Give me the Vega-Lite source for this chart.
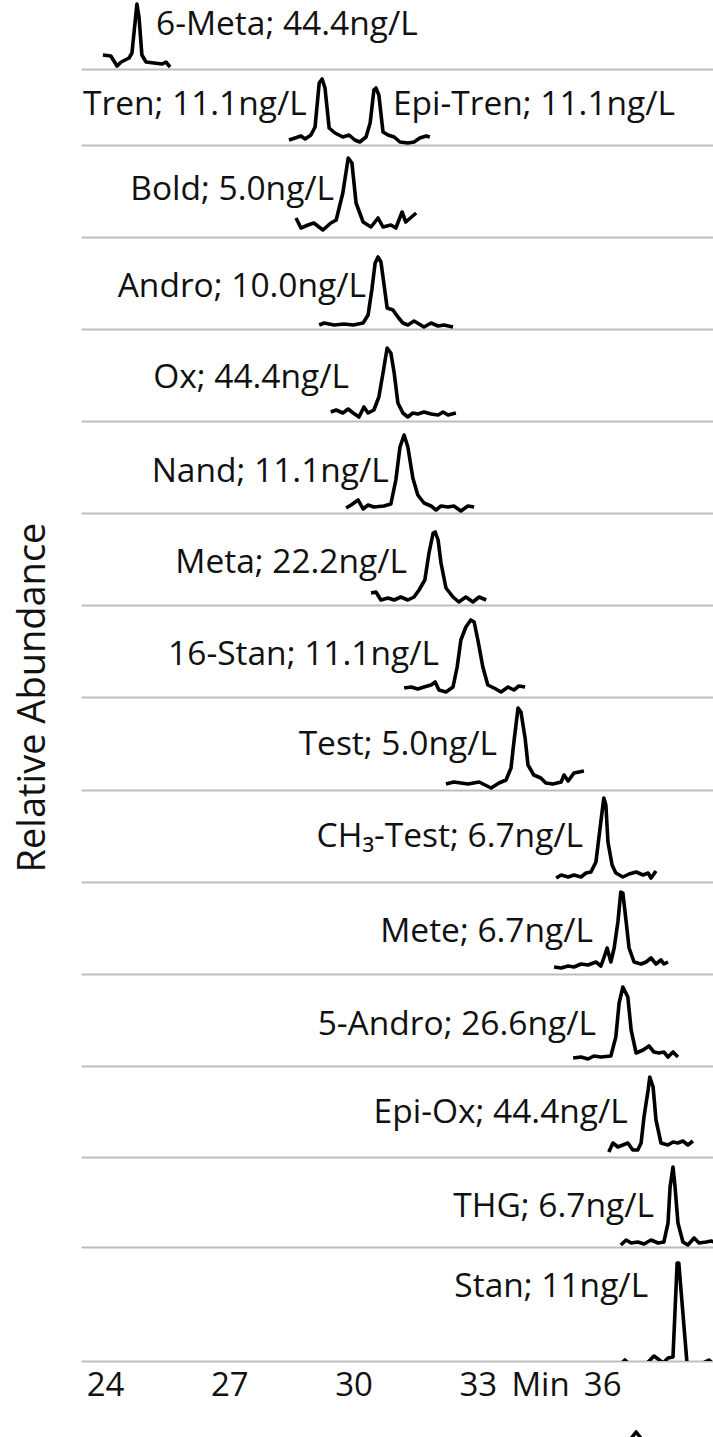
{
  "$schema": "https://vega.github.io/schema/vega-lite/v6.json",
  "padding": {"left": 14, "top": 0, "right": 0, "bottom": 0},
  "autosize": {"type": "pad"},
  "background": "white",
  "title": {"text": "Relative Abundance", "orient": "left", "anchor": "middle", "font": "Open Sans", "fontSize": 38, "fontWeight": "normal", "color": "#111", "offset": 28, "dx": 23},
  "datasets": {
    "traces": [
      {"trace": "6-Meta", "time": 23.95, "abundance": 14}, {"trace": "6-Meta", "time": 24.14, "abundance": 13}, {"trace": "6-Meta", "time": 24.29, "abundance": 3}, {"trace": "6-Meta", "time": 24.39, "abundance": 7}, {"trace": "6-Meta", "time": 24.58, "abundance": 11}, {"trace": "6-Meta", "time": 24.65, "abundance": 16}, {"trace": "6-Meta", "time": 24.77, "abundance": 65}, {"trace": "6-Meta", "time": 24.82, "abundance": 52}, {"trace": "6-Meta", "time": 24.89, "abundance": 14}, {"trace": "6-Meta", "time": 24.99, "abundance": 7}, {"trace": "6-Meta", "time": 25.18, "abundance": 6}, {"trace": "6-Meta", "time": 25.38, "abundance": 5}, {"trace": "6-Meta", "time": 25.47, "abundance": 7}, {"trace": "6-Meta", "time": 25.57, "abundance": 2},
      {"trace": "Tren", "time": 28.44, "abundance": 5}, {"trace": "Tren", "time": 28.59, "abundance": 7}, {"trace": "Tren", "time": 28.73, "abundance": 9}, {"trace": "Tren", "time": 28.83, "abundance": 6}, {"trace": "Tren", "time": 28.97, "abundance": 10}, {"trace": "Tren", "time": 29.07, "abundance": 18}, {"trace": "Tren", "time": 29.17, "abundance": 62}, {"trace": "Tren", "time": 29.24, "abundance": 66}, {"trace": "Tren", "time": 29.31, "abundance": 57}, {"trace": "Tren", "time": 29.41, "abundance": 17}, {"trace": "Tren", "time": 29.55, "abundance": 12}, {"trace": "Tren", "time": 29.74, "abundance": 8}, {"trace": "Tren", "time": 29.89, "abundance": 10}, {"trace": "Tren", "time": 30.03, "abundance": 5}, {"trace": "Tren", "time": 30.15, "abundance": 3}, {"trace": "Tren", "time": 30.30, "abundance": 8}, {"trace": "Tren", "time": 30.40, "abundance": 22}, {"trace": "Tren", "time": 30.49, "abundance": 55}, {"trace": "Tren", "time": 30.54, "abundance": 57}, {"trace": "Tren", "time": 30.61, "abundance": 50}, {"trace": "Tren", "time": 30.71, "abundance": 13}, {"trace": "Tren", "time": 30.83, "abundance": 10}, {"trace": "Tren", "time": 30.98, "abundance": 8}, {"trace": "Tren", "time": 31.12, "abundance": 3}, {"trace": "Tren", "time": 31.31, "abundance": 2}, {"trace": "Tren", "time": 31.46, "abundance": 3}, {"trace": "Tren", "time": 31.60, "abundance": 7}, {"trace": "Tren", "time": 31.75, "abundance": 9}, {"trace": "Tren", "time": 31.84, "abundance": 8},
      {"trace": "Bold", "time": 28.61, "abundance": 19}, {"trace": "Bold", "time": 28.73, "abundance": 9}, {"trace": "Bold", "time": 28.90, "abundance": 12}, {"trace": "Bold", "time": 29.04, "abundance": 14}, {"trace": "Bold", "time": 29.26, "abundance": 7}, {"trace": "Bold", "time": 29.45, "abundance": 14}, {"trace": "Bold", "time": 29.58, "abundance": 17}, {"trace": "Bold", "time": 29.74, "abundance": 44}, {"trace": "Bold", "time": 29.87, "abundance": 79}, {"trace": "Bold", "time": 29.96, "abundance": 74}, {"trace": "Bold", "time": 30.06, "abundance": 34}, {"trace": "Bold", "time": 30.23, "abundance": 15}, {"trace": "Bold", "time": 30.42, "abundance": 10}, {"trace": "Bold", "time": 30.59, "abundance": 19}, {"trace": "Bold", "time": 30.71, "abundance": 10}, {"trace": "Bold", "time": 30.90, "abundance": 12}, {"trace": "Bold", "time": 31.02, "abundance": 9}, {"trace": "Bold", "time": 31.17, "abundance": 25}, {"trace": "Bold", "time": 31.26, "abundance": 15}, {"trace": "Bold", "time": 31.51, "abundance": 24},
      {"trace": "Andro", "time": 29.17, "abundance": 4}, {"trace": "Andro", "time": 29.29, "abundance": 6}, {"trace": "Andro", "time": 29.53, "abundance": 4}, {"trace": "Andro", "time": 29.77, "abundance": 5}, {"trace": "Andro", "time": 29.99, "abundance": 4}, {"trace": "Andro", "time": 30.23, "abundance": 6}, {"trace": "Andro", "time": 30.35, "abundance": 14}, {"trace": "Andro", "time": 30.44, "abundance": 39}, {"trace": "Andro", "time": 30.52, "abundance": 66}, {"trace": "Andro", "time": 30.59, "abundance": 72}, {"trace": "Andro", "time": 30.66, "abundance": 67}, {"trace": "Andro", "time": 30.73, "abundance": 46}, {"trace": "Andro", "time": 30.81, "abundance": 21}, {"trace": "Andro", "time": 30.95, "abundance": 19}, {"trace": "Andro", "time": 31.07, "abundance": 12}, {"trace": "Andro", "time": 31.19, "abundance": 6}, {"trace": "Andro", "time": 31.31, "abundance": 4}, {"trace": "Andro", "time": 31.46, "abundance": 8}, {"trace": "Andro", "time": 31.58, "abundance": 5}, {"trace": "Andro", "time": 31.70, "abundance": 2}, {"trace": "Andro", "time": 31.87, "abundance": 6}, {"trace": "Andro", "time": 32.04, "abundance": 3}, {"trace": "Andro", "time": 32.18, "abundance": 4}, {"trace": "Andro", "time": 32.40, "abundance": 2},
      {"trace": "Ox", "time": 29.45, "abundance": 9}, {"trace": "Ox", "time": 29.58, "abundance": 11}, {"trace": "Ox", "time": 29.74, "abundance": 8}, {"trace": "Ox", "time": 29.87, "abundance": 12}, {"trace": "Ox", "time": 29.99, "abundance": 8}, {"trace": "Ox", "time": 30.13, "abundance": 4}, {"trace": "Ox", "time": 30.25, "abundance": 14}, {"trace": "Ox", "time": 30.35, "abundance": 8}, {"trace": "Ox", "time": 30.49, "abundance": 11}, {"trace": "Ox", "time": 30.61, "abundance": 24}, {"trace": "Ox", "time": 30.71, "abundance": 48}, {"trace": "Ox", "time": 30.81, "abundance": 73}, {"trace": "Ox", "time": 30.90, "abundance": 68}, {"trace": "Ox", "time": 30.98, "abundance": 48}, {"trace": "Ox", "time": 31.07, "abundance": 18}, {"trace": "Ox", "time": 31.19, "abundance": 8}, {"trace": "Ox", "time": 31.31, "abundance": 4}, {"trace": "Ox", "time": 31.43, "abundance": 8}, {"trace": "Ox", "time": 31.55, "abundance": 7}, {"trace": "Ox", "time": 31.70, "abundance": 9}, {"trace": "Ox", "time": 31.87, "abundance": 7}, {"trace": "Ox", "time": 32.04, "abundance": 6}, {"trace": "Ox", "time": 32.16, "abundance": 9}, {"trace": "Ox", "time": 32.28, "abundance": 6}, {"trace": "Ox", "time": 32.47, "abundance": 8},
      {"trace": "Nand", "time": 29.82, "abundance": 5}, {"trace": "Nand", "time": 29.94, "abundance": 8}, {"trace": "Nand", "time": 30.11, "abundance": 13}, {"trace": "Nand", "time": 30.23, "abundance": 4}, {"trace": "Nand", "time": 30.35, "abundance": 8}, {"trace": "Nand", "time": 30.49, "abundance": 6}, {"trace": "Nand", "time": 30.73, "abundance": 7}, {"trace": "Nand", "time": 30.90, "abundance": 9}, {"trace": "Nand", "time": 31.02, "abundance": 33}, {"trace": "Nand", "time": 31.12, "abundance": 66}, {"trace": "Nand", "time": 31.22, "abundance": 78}, {"trace": "Nand", "time": 31.31, "abundance": 66}, {"trace": "Nand", "time": 31.43, "abundance": 35}, {"trace": "Nand", "time": 31.55, "abundance": 18}, {"trace": "Nand", "time": 31.70, "abundance": 10}, {"trace": "Nand", "time": 31.87, "abundance": 7}, {"trace": "Nand", "time": 31.99, "abundance": 3}, {"trace": "Nand", "time": 32.11, "abundance": 7}, {"trace": "Nand", "time": 32.28, "abundance": 6}, {"trace": "Nand", "time": 32.42, "abundance": 7}, {"trace": "Nand", "time": 32.59, "abundance": 2}, {"trace": "Nand", "time": 32.76, "abundance": 7}, {"trace": "Nand", "time": 32.91, "abundance": 6},
      {"trace": "Meta", "time": 30.42, "abundance": 12}, {"trace": "Meta", "time": 30.54, "abundance": 13}, {"trace": "Meta", "time": 30.66, "abundance": 5}, {"trace": "Meta", "time": 30.83, "abundance": 7}, {"trace": "Meta", "time": 30.98, "abundance": 5}, {"trace": "Meta", "time": 31.14, "abundance": 8}, {"trace": "Meta", "time": 31.31, "abundance": 5}, {"trace": "Meta", "time": 31.46, "abundance": 8}, {"trace": "Meta", "time": 31.58, "abundance": 15}, {"trace": "Meta", "time": 31.72, "abundance": 25}, {"trace": "Meta", "time": 31.82, "abundance": 52}, {"trace": "Meta", "time": 31.92, "abundance": 72}, {"trace": "Meta", "time": 31.97, "abundance": 73}, {"trace": "Meta", "time": 32.04, "abundance": 65}, {"trace": "Meta", "time": 32.11, "abundance": 42}, {"trace": "Meta", "time": 32.23, "abundance": 17}, {"trace": "Meta", "time": 32.40, "abundance": 8}, {"trace": "Meta", "time": 32.54, "abundance": 3}, {"trace": "Meta", "time": 32.71, "abundance": 8}, {"trace": "Meta", "time": 32.88, "abundance": 3}, {"trace": "Meta", "time": 33.03, "abundance": 8}, {"trace": "Meta", "time": 33.20, "abundance": 5},
      {"trace": "16-Stan", "time": 31.22, "abundance": 9}, {"trace": "16-Stan", "time": 31.39, "abundance": 10}, {"trace": "16-Stan", "time": 31.55, "abundance": 8}, {"trace": "16-Stan", "time": 31.70, "abundance": 10}, {"trace": "16-Stan", "time": 31.87, "abundance": 12}, {"trace": "16-Stan", "time": 31.97, "abundance": 15}, {"trace": "16-Stan", "time": 32.06, "abundance": 7}, {"trace": "16-Stan", "time": 32.23, "abundance": 5}, {"trace": "16-Stan", "time": 32.40, "abundance": 10}, {"trace": "16-Stan", "time": 32.50, "abundance": 30}, {"trace": "16-Stan", "time": 32.59, "abundance": 57}, {"trace": "16-Stan", "time": 32.71, "abundance": 70}, {"trace": "16-Stan", "time": 32.83, "abundance": 77}, {"trace": "16-Stan", "time": 32.91, "abundance": 75}, {"trace": "16-Stan", "time": 33.00, "abundance": 57}, {"trace": "16-Stan", "time": 33.12, "abundance": 30}, {"trace": "16-Stan", "time": 33.24, "abundance": 12}, {"trace": "16-Stan", "time": 33.39, "abundance": 9}, {"trace": "16-Stan", "time": 33.56, "abundance": 5}, {"trace": "16-Stan", "time": 33.73, "abundance": 10}, {"trace": "16-Stan", "time": 33.87, "abundance": 7}, {"trace": "16-Stan", "time": 33.99, "abundance": 11}, {"trace": "16-Stan", "time": 34.14, "abundance": 10},
      {"trace": "Test", "time": 32.23, "abundance": 6}, {"trace": "Test", "time": 32.42, "abundance": 8}, {"trace": "Test", "time": 32.76, "abundance": 6}, {"trace": "Test", "time": 33.03, "abundance": 8}, {"trace": "Test", "time": 33.32, "abundance": 2}, {"trace": "Test", "time": 33.51, "abundance": 7}, {"trace": "Test", "time": 33.68, "abundance": 10}, {"trace": "Test", "time": 33.80, "abundance": 22}, {"trace": "Test", "time": 33.87, "abundance": 48}, {"trace": "Test", "time": 33.97, "abundance": 82}, {"trace": "Test", "time": 34.04, "abundance": 78}, {"trace": "Test", "time": 34.14, "abundance": 52}, {"trace": "Test", "time": 34.21, "abundance": 25}, {"trace": "Test", "time": 34.35, "abundance": 15}, {"trace": "Test", "time": 34.52, "abundance": 12}, {"trace": "Test", "time": 34.64, "abundance": 7}, {"trace": "Test", "time": 34.81, "abundance": 6}, {"trace": "Test", "time": 35.01, "abundance": 8}, {"trace": "Test", "time": 35.08, "abundance": 15}, {"trace": "Test", "time": 35.18, "abundance": 9}, {"trace": "Test", "time": 35.32, "abundance": 17}, {"trace": "Test", "time": 35.44, "abundance": 18}, {"trace": "Test", "time": 35.56, "abundance": 19},
      {"trace": "CH3-Test", "time": 34.89, "abundance": 4}, {"trace": "CH3-Test", "time": 35.01, "abundance": 7}, {"trace": "CH3-Test", "time": 35.18, "abundance": 5}, {"trace": "CH3-Test", "time": 35.32, "abundance": 7}, {"trace": "CH3-Test", "time": 35.49, "abundance": 5}, {"trace": "CH3-Test", "time": 35.61, "abundance": 9}, {"trace": "CH3-Test", "time": 35.73, "abundance": 10}, {"trace": "CH3-Test", "time": 35.85, "abundance": 20}, {"trace": "CH3-Test", "time": 35.95, "abundance": 54}, {"trace": "CH3-Test", "time": 36.04, "abundance": 84}, {"trace": "CH3-Test", "time": 36.09, "abundance": 77}, {"trace": "CH3-Test", "time": 36.14, "abundance": 40}, {"trace": "CH3-Test", "time": 36.24, "abundance": 17}, {"trace": "CH3-Test", "time": 36.33, "abundance": 9}, {"trace": "CH3-Test", "time": 36.50, "abundance": 5}, {"trace": "CH3-Test", "time": 36.65, "abundance": 8}, {"trace": "CH3-Test", "time": 36.82, "abundance": 10}, {"trace": "CH3-Test", "time": 36.99, "abundance": 7}, {"trace": "CH3-Test", "time": 37.11, "abundance": 9}, {"trace": "CH3-Test", "time": 37.18, "abundance": 4}, {"trace": "CH3-Test", "time": 37.30, "abundance": 11},
      {"trace": "Mete", "time": 34.84, "abundance": 7}, {"trace": "Mete", "time": 35.01, "abundance": 6}, {"trace": "Mete", "time": 35.18, "abundance": 8}, {"trace": "Mete", "time": 35.32, "abundance": 7}, {"trace": "Mete", "time": 35.49, "abundance": 10}, {"trace": "Mete", "time": 35.66, "abundance": 9}, {"trace": "Mete", "time": 35.85, "abundance": 12}, {"trace": "Mete", "time": 35.97, "abundance": 8}, {"trace": "Mete", "time": 36.04, "abundance": 16}, {"trace": "Mete", "time": 36.12, "abundance": 26}, {"trace": "Mete", "time": 36.21, "abundance": 12}, {"trace": "Mete", "time": 36.29, "abundance": 26}, {"trace": "Mete", "time": 36.38, "abundance": 52}, {"trace": "Mete", "time": 36.45, "abundance": 82}, {"trace": "Mete", "time": 36.50, "abundance": 81}, {"trace": "Mete", "time": 36.58, "abundance": 52}, {"trace": "Mete", "time": 36.65, "abundance": 26}, {"trace": "Mete", "time": 36.77, "abundance": 12}, {"trace": "Mete", "time": 36.94, "abundance": 10}, {"trace": "Mete", "time": 37.06, "abundance": 12}, {"trace": "Mete", "time": 37.18, "abundance": 16}, {"trace": "Mete", "time": 37.30, "abundance": 10}, {"trace": "Mete", "time": 37.42, "abundance": 14}, {"trace": "Mete", "time": 37.49, "abundance": 10}, {"trace": "Mete", "time": 37.59, "abundance": 12},
      {"trace": "5-Andro", "time": 35.30, "abundance": 8}, {"trace": "5-Andro", "time": 35.49, "abundance": 9}, {"trace": "5-Andro", "time": 35.66, "abundance": 7}, {"trace": "5-Andro", "time": 35.80, "abundance": 10}, {"trace": "5-Andro", "time": 35.97, "abundance": 9}, {"trace": "5-Andro", "time": 36.21, "abundance": 10}, {"trace": "5-Andro", "time": 36.33, "abundance": 29}, {"trace": "5-Andro", "time": 36.41, "abundance": 63}, {"trace": "5-Andro", "time": 36.50, "abundance": 79}, {"trace": "5-Andro", "time": 36.62, "abundance": 69}, {"trace": "5-Andro", "time": 36.70, "abundance": 36}, {"trace": "5-Andro", "time": 36.82, "abundance": 13}, {"trace": "5-Andro", "time": 36.99, "abundance": 16}, {"trace": "5-Andro", "time": 37.13, "abundance": 20}, {"trace": "5-Andro", "time": 37.25, "abundance": 14}, {"trace": "5-Andro", "time": 37.37, "abundance": 13}, {"trace": "5-Andro", "time": 37.49, "abundance": 14}, {"trace": "5-Andro", "time": 37.59, "abundance": 9}, {"trace": "5-Andro", "time": 37.71, "abundance": 14}, {"trace": "5-Andro", "time": 37.83, "abundance": 9},
      {"trace": "Epi-Ox", "time": 36.16, "abundance": 5}, {"trace": "Epi-Ox", "time": 36.26, "abundance": 14}, {"trace": "Epi-Ox", "time": 36.38, "abundance": 10}, {"trace": "Epi-Ox", "time": 36.50, "abundance": 12}, {"trace": "Epi-Ox", "time": 36.62, "abundance": 14}, {"trace": "Epi-Ox", "time": 36.74, "abundance": 7}, {"trace": "Epi-Ox", "time": 36.86, "abundance": 7}, {"trace": "Epi-Ox", "time": 36.94, "abundance": 14}, {"trace": "Epi-Ox", "time": 37.01, "abundance": 40}, {"trace": "Epi-Ox", "time": 37.11, "abundance": 67}, {"trace": "Epi-Ox", "time": 37.15, "abundance": 80}, {"trace": "Epi-Ox", "time": 37.23, "abundance": 70}, {"trace": "Epi-Ox", "time": 37.30, "abundance": 37}, {"trace": "Epi-Ox", "time": 37.42, "abundance": 14}, {"trace": "Epi-Ox", "time": 37.59, "abundance": 12}, {"trace": "Epi-Ox", "time": 37.71, "abundance": 15}, {"trace": "Epi-Ox", "time": 37.83, "abundance": 14}, {"trace": "Epi-Ox", "time": 37.95, "abundance": 16}, {"trace": "Epi-Ox", "time": 38.07, "abundance": 12}, {"trace": "Epi-Ox", "time": 38.19, "abundance": 16},
      {"trace": "THG", "time": 36.45, "abundance": 2}, {"trace": "THG", "time": 36.58, "abundance": 7}, {"trace": "THG", "time": 36.70, "abundance": 4}, {"trace": "THG", "time": 36.86, "abundance": 5}, {"trace": "THG", "time": 37.01, "abundance": 3}, {"trace": "THG", "time": 37.18, "abundance": 7}, {"trace": "THG", "time": 37.35, "abundance": 4}, {"trace": "THG", "time": 37.49, "abundance": 5}, {"trace": "THG", "time": 37.59, "abundance": 24}, {"trace": "THG", "time": 37.64, "abundance": 60}, {"trace": "THG", "time": 37.71, "abundance": 80}, {"trace": "THG", "time": 37.76, "abundance": 60}, {"trace": "THG", "time": 37.83, "abundance": 24}, {"trace": "THG", "time": 37.95, "abundance": 5}, {"trace": "THG", "time": 38.07, "abundance": 2}, {"trace": "THG", "time": 38.22, "abundance": 9}, {"trace": "THG", "time": 38.34, "abundance": 4}, {"trace": "THG", "time": 38.51, "abundance": 5}, {"trace": "THG", "time": 38.63, "abundance": 6}, {"trace": "THG", "time": 38.70, "abundance": 5},
      {"trace": "Stan", "time": 36.45, "abundance": -3}, {"trace": "Stan", "time": 36.55, "abundance": 1}, {"trace": "Stan", "time": 36.65, "abundance": -3}, {"trace": "Stan", "time": 37.06, "abundance": -3}, {"trace": "Stan", "time": 37.18, "abundance": 2}, {"trace": "Stan", "time": 37.25, "abundance": 5}, {"trace": "Stan", "time": 37.35, "abundance": 2}, {"trace": "Stan", "time": 37.47, "abundance": -2}, {"trace": "Stan", "time": 37.59, "abundance": 3}, {"trace": "Stan", "time": 37.71, "abundance": 4}, {"trace": "Stan", "time": 37.81, "abundance": 98}, {"trace": "Stan", "time": 37.85, "abundance": 98}, {"trace": "Stan", "time": 38.05, "abundance": -3}, {"trace": "Stan", "time": 38.39, "abundance": -3}, {"trace": "Stan", "time": 38.58, "abundance": 1}, {"trace": "Stan", "time": 38.68, "abundance": -3},
      {"trace": "next", "time": 36.65, "abundance": 0}, {"trace": "next", "time": 36.82, "abundance": 9}, {"trace": "next", "time": 36.99, "abundance": 0}
    ],
    "labels": [
      {"trace": "6-Meta", "label": "6-Meta; 44.4ng/L", "time": 25.23, "abundance": 34},
      {"trace": "Tren", "label": "Tren; 11.1ng/L", "time": 28.87, "abundance": 30},
      {"trace": "Tren", "label": "Epi-Tren; 11.1ng/L", "time": 30.95, "abundance": 30},
      {"trace": "Bold", "label": "Bold; 5.0ng/L", "time": 29.53, "abundance": 37},
      {"trace": "Andro", "label": "Andro; 10.0ng/L", "time": 30.30, "abundance": 32},
      {"trace": "Ox", "label": "Ox; 44.4ng/L", "time": 29.89, "abundance": 33},
      {"trace": "Nand", "label": "Nand; 11.1ng/L", "time": 30.85, "abundance": 31},
      {"trace": "Meta", "label": "Meta; 22.2ng/L", "time": 31.29, "abundance": 32},
      {"trace": "16-Stan", "label": "16-Stan; 11.1ng/L", "time": 32.06, "abundance": 32},
      {"trace": "Test", "label": "Test; 5.0ng/L", "time": 33.46, "abundance": 35},
      {"trace": "CH3-Test", "label": "CH₃-Test; 6.7ng/L", "time": 35.54, "abundance": 35},
      {"trace": "Mete", "label": "Mete; 6.7ng/L", "time": 35.78, "abundance": 32},
      {"trace": "5-Andro", "label": "5-Andro; 26.6ng/L", "time": 35.85, "abundance": 31},
      {"trace": "Epi-Ox", "label": "Epi-Ox; 44.4ng/L", "time": 36.62, "abundance": 34},
      {"trace": "THG", "label": "THG; 6.7ng/L", "time": 37.25, "abundance": 30},
      {"trace": "Stan", "label": "Stan; 11ng/L", "time": 37.11, "abundance": 64}
    ]
  },
  "spacing": 0,
  "bounds": "flush",
  "resolve": {"scale": {"x": "independent", "y": "independent"}},
  "vconcat": [
    {"width": 633, "height": 69,
     "encoding": {"x": {"field": "time", "type": "quantitative", "title": null, "scale": {"domain": [23.42, 38.7], "nice": false, "zero": false}}, "y": {"field": "abundance", "type": "quantitative", "axis": null, "scale": {"domain": [0, 69], "nice": false, "zero": false}}},
     "layer": [
       {"data": {"name": "traces"}, "transform": [{"filter": "datum.trace === '6-Meta'"}], "mark": {"type": "line", "color": "#000", "strokeWidth": 3.6, "strokeJoin": "round", "clip": true}},
       {"data": {"name": "labels"}, "transform": [{"filter": "datum.trace === '6-Meta'"}], "mark": {"type": "text", "align": "left", "baseline": "alphabetic"}, "encoding": {"text": {"field": "label"}}}
     ]},
    {"width": 633, "height": 76,
     "encoding": {"x": {"field": "time", "type": "quantitative", "title": null, "scale": {"domain": [23.42, 38.7], "nice": false, "zero": false}}, "y": {"field": "abundance", "type": "quantitative", "axis": null, "scale": {"domain": [0, 76], "nice": false, "zero": false}}},
     "layer": [
       {"data": {"name": "traces"}, "transform": [{"filter": "datum.trace === 'Tren'"}], "mark": {"type": "line", "color": "#000", "strokeWidth": 3.6, "strokeJoin": "round", "clip": true}},
       {"data": {"name": "labels"}, "transform": [{"filter": "datum.label === 'Tren; 11.1ng/L'"}], "mark": {"type": "text", "align": "right", "baseline": "alphabetic"}, "encoding": {"text": {"field": "label"}}},
       {"data": {"name": "labels"}, "transform": [{"filter": "datum.label === 'Epi-Tren; 11.1ng/L'"}], "mark": {"type": "text", "align": "left", "baseline": "alphabetic"}, "encoding": {"text": {"field": "label"}}}
     ]},
    {"width": 633, "height": 92,
     "encoding": {"x": {"field": "time", "type": "quantitative", "title": null, "scale": {"domain": [23.42, 38.7], "nice": false, "zero": false}}, "y": {"field": "abundance", "type": "quantitative", "axis": null, "scale": {"domain": [0, 92], "nice": false, "zero": false}}},
     "layer": [
       {"data": {"name": "traces"}, "transform": [{"filter": "datum.trace === 'Bold'"}], "mark": {"type": "line", "color": "#000", "strokeWidth": 3.6, "strokeJoin": "round", "clip": true}},
       {"data": {"name": "labels"}, "transform": [{"filter": "datum.trace === 'Bold'"}], "mark": {"type": "text", "align": "right", "baseline": "alphabetic"}, "encoding": {"text": {"field": "label"}}}
     ]},
    {"width": 633, "height": 92,
     "encoding": {"x": {"field": "time", "type": "quantitative", "title": null, "scale": {"domain": [23.42, 38.7], "nice": false, "zero": false}}, "y": {"field": "abundance", "type": "quantitative", "axis": null, "scale": {"domain": [0, 92], "nice": false, "zero": false}}},
     "layer": [
       {"data": {"name": "traces"}, "transform": [{"filter": "datum.trace === 'Andro'"}], "mark": {"type": "line", "color": "#000", "strokeWidth": 3.6, "strokeJoin": "round", "clip": true}},
       {"data": {"name": "labels"}, "transform": [{"filter": "datum.trace === 'Andro'"}], "mark": {"type": "text", "align": "right", "baseline": "alphabetic"}, "encoding": {"text": {"field": "label"}}}
     ]},
    {"width": 633, "height": 92,
     "encoding": {"x": {"field": "time", "type": "quantitative", "title": null, "scale": {"domain": [23.42, 38.7], "nice": false, "zero": false}}, "y": {"field": "abundance", "type": "quantitative", "axis": null, "scale": {"domain": [0, 92], "nice": false, "zero": false}}},
     "layer": [
       {"data": {"name": "traces"}, "transform": [{"filter": "datum.trace === 'Ox'"}], "mark": {"type": "line", "color": "#000", "strokeWidth": 3.6, "strokeJoin": "round", "clip": true}},
       {"data": {"name": "labels"}, "transform": [{"filter": "datum.trace === 'Ox'"}], "mark": {"type": "text", "align": "right", "baseline": "alphabetic"}, "encoding": {"text": {"field": "label"}}}
     ]},
    {"width": 633, "height": 92,
     "encoding": {"x": {"field": "time", "type": "quantitative", "title": null, "scale": {"domain": [23.42, 38.7], "nice": false, "zero": false}}, "y": {"field": "abundance", "type": "quantitative", "axis": null, "scale": {"domain": [0, 92], "nice": false, "zero": false}}},
     "layer": [
       {"data": {"name": "traces"}, "transform": [{"filter": "datum.trace === 'Nand'"}], "mark": {"type": "line", "color": "#000", "strokeWidth": 3.6, "strokeJoin": "round", "clip": true}},
       {"data": {"name": "labels"}, "transform": [{"filter": "datum.trace === 'Nand'"}], "mark": {"type": "text", "align": "right", "baseline": "alphabetic"}, "encoding": {"text": {"field": "label"}}}
     ]},
    {"width": 633, "height": 92,
     "encoding": {"x": {"field": "time", "type": "quantitative", "title": null, "scale": {"domain": [23.42, 38.7], "nice": false, "zero": false}}, "y": {"field": "abundance", "type": "quantitative", "axis": null, "scale": {"domain": [0, 92], "nice": false, "zero": false}}},
     "layer": [
       {"data": {"name": "traces"}, "transform": [{"filter": "datum.trace === 'Meta'"}], "mark": {"type": "line", "color": "#000", "strokeWidth": 3.6, "strokeJoin": "round", "clip": true}},
       {"data": {"name": "labels"}, "transform": [{"filter": "datum.trace === 'Meta'"}], "mark": {"type": "text", "align": "right", "baseline": "alphabetic"}, "encoding": {"text": {"field": "label"}}}
     ]},
    {"width": 633, "height": 92,
     "encoding": {"x": {"field": "time", "type": "quantitative", "title": null, "scale": {"domain": [23.42, 38.7], "nice": false, "zero": false}}, "y": {"field": "abundance", "type": "quantitative", "axis": null, "scale": {"domain": [0, 92], "nice": false, "zero": false}}},
     "layer": [
       {"data": {"name": "traces"}, "transform": [{"filter": "datum.trace === '16-Stan'"}], "mark": {"type": "line", "color": "#000", "strokeWidth": 3.6, "strokeJoin": "round", "clip": true}},
       {"data": {"name": "labels"}, "transform": [{"filter": "datum.trace === '16-Stan'"}], "mark": {"type": "text", "align": "right", "baseline": "alphabetic"}, "encoding": {"text": {"field": "label"}}}
     ]},
    {"width": 633, "height": 93,
     "encoding": {"x": {"field": "time", "type": "quantitative", "title": null, "scale": {"domain": [23.42, 38.7], "nice": false, "zero": false}}, "y": {"field": "abundance", "type": "quantitative", "axis": null, "scale": {"domain": [0, 93], "nice": false, "zero": false}}},
     "layer": [
       {"data": {"name": "traces"}, "transform": [{"filter": "datum.trace === 'Test'"}], "mark": {"type": "line", "color": "#000", "strokeWidth": 3.6, "strokeJoin": "round", "clip": true}},
       {"data": {"name": "labels"}, "transform": [{"filter": "datum.trace === 'Test'"}], "mark": {"type": "text", "align": "right", "baseline": "alphabetic"}, "encoding": {"text": {"field": "label"}}}
     ]},
    {"width": 633, "height": 92,
     "encoding": {"x": {"field": "time", "type": "quantitative", "title": null, "scale": {"domain": [23.42, 38.7], "nice": false, "zero": false}}, "y": {"field": "abundance", "type": "quantitative", "axis": null, "scale": {"domain": [0, 92], "nice": false, "zero": false}}},
     "layer": [
       {"data": {"name": "traces"}, "transform": [{"filter": "datum.trace === 'CH3-Test'"}], "mark": {"type": "line", "color": "#000", "strokeWidth": 3.6, "strokeJoin": "round", "clip": true}},
       {"data": {"name": "labels"}, "transform": [{"filter": "datum.trace === 'CH3-Test'"}], "mark": {"type": "text", "align": "right", "baseline": "alphabetic"}, "encoding": {"text": {"field": "label"}}}
     ]},
    {"width": 633, "height": 92,
     "encoding": {"x": {"field": "time", "type": "quantitative", "title": null, "scale": {"domain": [23.42, 38.7], "nice": false, "zero": false}}, "y": {"field": "abundance", "type": "quantitative", "axis": null, "scale": {"domain": [0, 92], "nice": false, "zero": false}}},
     "layer": [
       {"data": {"name": "traces"}, "transform": [{"filter": "datum.trace === 'Mete'"}], "mark": {"type": "line", "color": "#000", "strokeWidth": 3.6, "strokeJoin": "round", "clip": true}},
       {"data": {"name": "labels"}, "transform": [{"filter": "datum.trace === 'Mete'"}], "mark": {"type": "text", "align": "right", "baseline": "alphabetic"}, "encoding": {"text": {"field": "label"}}}
     ]},
    {"width": 633, "height": 92,
     "encoding": {"x": {"field": "time", "type": "quantitative", "title": null, "scale": {"domain": [23.42, 38.7], "nice": false, "zero": false}}, "y": {"field": "abundance", "type": "quantitative", "axis": null, "scale": {"domain": [0, 92], "nice": false, "zero": false}}},
     "layer": [
       {"data": {"name": "traces"}, "transform": [{"filter": "datum.trace === '5-Andro'"}], "mark": {"type": "line", "color": "#000", "strokeWidth": 3.6, "strokeJoin": "round", "clip": true}},
       {"data": {"name": "labels"}, "transform": [{"filter": "datum.trace === '5-Andro'"}], "mark": {"type": "text", "align": "right", "baseline": "alphabetic"}, "encoding": {"text": {"field": "label"}}}
     ]},
    {"width": 633, "height": 91,
     "encoding": {"x": {"field": "time", "type": "quantitative", "title": null, "scale": {"domain": [23.42, 38.7], "nice": false, "zero": false}}, "y": {"field": "abundance", "type": "quantitative", "axis": null, "scale": {"domain": [0, 91], "nice": false, "zero": false}}},
     "layer": [
       {"data": {"name": "traces"}, "transform": [{"filter": "datum.trace === 'Epi-Ox'"}], "mark": {"type": "line", "color": "#000", "strokeWidth": 3.6, "strokeJoin": "round", "clip": true}},
       {"data": {"name": "labels"}, "transform": [{"filter": "datum.trace === 'Epi-Ox'"}], "mark": {"type": "text", "align": "right", "baseline": "alphabetic"}, "encoding": {"text": {"field": "label"}}}
     ]},
    {"width": 633, "height": 90,
     "encoding": {"x": {"field": "time", "type": "quantitative", "title": null, "scale": {"domain": [23.42, 38.7], "nice": false, "zero": false}}, "y": {"field": "abundance", "type": "quantitative", "axis": null, "scale": {"domain": [0, 90], "nice": false, "zero": false}}},
     "layer": [
       {"data": {"name": "traces"}, "transform": [{"filter": "datum.trace === 'THG'"}], "mark": {"type": "line", "color": "#000", "strokeWidth": 3.6, "strokeJoin": "round", "clip": true}},
       {"data": {"name": "labels"}, "transform": [{"filter": "datum.trace === 'THG'"}], "mark": {"type": "text", "align": "right", "baseline": "alphabetic"}, "encoding": {"text": {"field": "label"}}}
     ]},
    {"width": 633, "height": 114,
     "encoding": {"x": {"field": "time", "type": "quantitative", "title": null, "scale": {"domain": [23.42, 38.7], "nice": false, "zero": false}, "axis": {"labels": true, "values": [24, 27, 30, 33, 34.5, 36], "labelExpr": "datum.value == 34.5 ? 'Min' : datum.label", "labelOverlap": false, "labelFlush": false, "labelPadding": 8}}, "y": {"field": "abundance", "type": "quantitative", "axis": null, "scale": {"domain": [0, 114], "nice": false, "zero": false}}},
     "layer": [
       {"data": {"name": "traces"}, "transform": [{"filter": "datum.trace === 'Stan'"}], "mark": {"type": "line", "color": "#000", "strokeWidth": 3.6, "strokeJoin": "round", "clip": true}},
       {"data": {"name": "labels"}, "transform": [{"filter": "datum.trace === 'Stan'"}], "mark": {"type": "text", "align": "right", "baseline": "alphabetic"}, "encoding": {"text": {"field": "label"}}}
     ]},
    {"width": 633, "height": 80,
     "encoding": {"x": {"field": "time", "type": "quantitative", "title": null, "scale": {"domain": [23.42, 38.7], "nice": false, "zero": false}, "axis": null}, "y": {"field": "abundance", "type": "quantitative", "axis": null, "scale": {"domain": [0, 80], "nice": false, "zero": false}}},
     "layer": [
       {"data": {"name": "traces"}, "transform": [{"filter": "datum.trace === 'next'"}], "mark": {"type": "line", "color": "#000", "strokeWidth": 3.6, "strokeJoin": "round", "clip": true}}
     ]}
  ],
  "config": {
    "view": {"stroke": null},
    "axis": {"domainColor": "#bdbdbd", "domainWidth": 2, "ticks": false, "grid": false, "labels": false, "labelFont": "Open Sans", "labelFontSize": 33, "labelColor": "#111"},
    "text": {"font": "Open Sans", "fontSize": 33.5, "color": "#111"}
  }
}
